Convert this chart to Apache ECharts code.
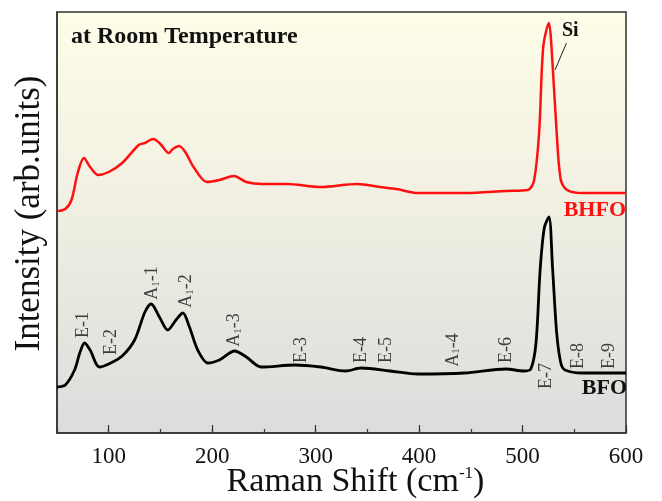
<!DOCTYPE html>
<html>
<head>
<meta charset="utf-8">
<script src="https://cdn.jsdelivr.net/npm/echarts@6/dist/echarts.min.js"></script>
<style>
  html, body { margin: 0; padding: 0; background: #fff; }
  #main { width: 662px; height: 501px; }
</style>
</head>
<body>
<div id="main"></div>
<script>
// ---------- 数据 ----------
// BHFO (红) 拉曼谱, [波数, 强度(任意单位)]
const bhfoShift = [50, 58, 64, 70, 76, 82, 90, 100, 113, 129, 135, 143, 150, 158, 162, 168, 174, 182, 195, 207, 221, 233, 248, 272, 305, 340, 362, 378, 399, 444, 484, 505, 511, 516, 520, 525.5, 528, 533, 537, 543, 558, 600];
const bhfoInt   = [222, 224, 233, 260, 275, 266, 258, 261, 270, 288, 290, 294, 289, 280, 284, 287, 281, 266, 251, 253, 257, 251, 249, 249, 246, 249, 246, 244, 240, 240, 242, 243, 252, 300, 386, 410, 386, 300, 253, 243, 240, 240];

// BFO (黑)
const bfoShift = [50, 58, 67, 72, 76.6, 82, 91, 100, 113, 125, 135, 141, 149, 157, 165, 171.7, 178, 186, 195.8, 207, 221.7, 233, 247.5, 280, 305, 329, 344, 372, 399, 444, 484, 501, 508, 513, 517, 521, 525.5, 529, 533, 537, 541, 558, 600];
const bfoInt   = [46, 48, 63, 80, 90, 83, 66, 69, 77, 93, 121, 129, 116, 103, 113, 120, 106, 83, 70, 73, 82, 76, 66, 68, 66, 62, 65, 62, 59, 60, 64, 62, 64, 90, 163, 205, 216, 165, 100, 70, 63, 60, 60];

// 振动模式标注
const modeNames = ['E-1', 'E-2', 'A{s|1}-1', 'A{s|1}-2', 'A{s|1}-3', 'E-3', 'E-4', 'E-5', 'A{s|1}-4', 'E-6', 'E-7', 'E-8', 'E-9'];
const modeShift = [75, 102.5, 142.5, 175, 221.7, 286, 344, 368.4, 432.8, 483.8, 523, 553.7, 584.3];
const modeLabelY = [108, 91, 150, 142, 103, 83, 83, 83, 83, 83, 57, 77, 77];

// 坐标轴刻度
const majorTicks = [100, 200, 300, 400, 500, 600];

const SERIF = "'Liberation Serif', 'Times New Roman', serif";

function pairs(xs, ys) {
  return xs.map((x, i) => [x, ys[i]]);
}

const chart = echarts.init(document.getElementById('main'), null, { renderer: 'canvas' });

const option = {
  animation: false,
  grid: {
    left: 57, right: 36, top: 12, bottom: 68,
    outerBoundsMode: 'none',
    containLabel: false,
    show: true,
    borderColor: '#333',
    borderWidth: 1.5,
    backgroundColor: new echarts.graphic.LinearGradient(0, 0, 0, 1, [
      { offset: 0, color: '#fefde8' },
      { offset: 0.5, color: '#efeee2' },
      { offset: 1, color: '#dcdcdc' }
    ])
  },
  xAxis: [
    {
      type: 'value', min: 50, max: 600, interval: 50,
      axisLine: { show: true, onZero: false, lineStyle: { color: '#333', width: 1.5 } },
      axisTick: { show: true, inside: true, length: 4, lineStyle: { color: '#333', width: 1.2 } },
      axisLabel: {
        show: true, margin: 12,
        fontFamily: SERIF, fontSize: 23, color: '#111',
        formatter: v => (v % 100 === 0 ? String(v) : '')
      },
      splitLine: { show: false },
      name: 'Raman Shift (cm{sup|-1})',
      nameLocation: 'middle',
      nameGap: 32,
      nameMoveOverlap: false,
      nameTextStyle: {
        fontFamily: SERIF, fontSize: 34, color: '#111',
        padding: [0, 0, 0, 28],
        rich: {
          sup: { fontFamily: SERIF, fontSize: 17, color: '#111', verticalAlign: 'top', padding: [0, 0, 14, 0] }
        }
      }
    },
    {
      type: 'value', min: 50, max: 600,
      position: 'bottom',
      axisLine: { show: false },
      axisTick: { show: true, inside: true, length: 8, customValues: majorTicks, lineStyle: { color: '#333', width: 1.2 } },
      axisLabel: { show: false },
      splitLine: { show: false }
    }
  ],
  yAxis: {
    type: 'value', min: 0, max: 421,
    axisLine: { show: true, lineStyle: { color: '#333', width: 1.5 } },
    axisTick: { show: false },
    axisLabel: { show: false },
    splitLine: { show: false },
    name: 'Intensity (arb.units)',
    nameLocation: 'middle',
    nameGap: 10,
    nameMoveOverlap: false,
    nameTextStyle: { fontFamily: SERIF, fontSize: 35, color: '#111', padding: [0, 0, 0, 18] }
  },
  series: [
    {
      name: 'BHFO', type: 'line',
      data: pairs(bhfoShift, bhfoInt),
      showSymbol: false, smooth: 0.3,
      lineStyle: { color: '#ff1010', width: 2.5 }
    },
    {
      name: 'BFO', type: 'line',
      data: pairs(bfoShift, bfoInt),
      showSymbol: false, smooth: 0.3,
      lineStyle: { color: '#000', width: 2.8 }
    },
    {
      name: 'modes', type: 'scatter',
      symbolSize: 0,
      data: modeNames.map((n, i) => ({ name: n, value: [modeShift[i], modeLabelY[i]] })),
      label: {
        show: true, position: 'inside', rotate: 90,
        formatter: p => p.name,
        fontFamily: SERIF, fontSize: 18, color: '#111',
        rich: {
          s: { fontFamily: SERIF, fontSize: 11, color: '#111', verticalAlign: 'bottom' }
        }
      },
      silent: true
    }
  ],
  graphic: [
    {
      type: 'text', left: 71, top: 25,
      style: { text: 'at Room Temperature', font: 'bold 24px ' + SERIF, fill: '#111' }
    },
    {
      type: 'text', left: 562, top: 21,
      style: { text: 'Si', font: 'bold 20px ' + SERIF, fill: '#111' }
    },
    {
      type: 'line',
      shape: { x1: 566.5, y1: 43, x2: 555, y2: 70 },
      style: { stroke: '#222', lineWidth: 1 }
    },
    {
      type: 'text', right: 36, top: 199,
      style: { text: 'BHFO', font: 'bold 22px ' + SERIF, fill: '#ff1010' }
    },
    {
      type: 'text', right: 35, top: 377,
      style: { text: 'BFO', font: 'bold 22px ' + SERIF, fill: '#111' }
    }
  ]
};

chart.setOption(option);
</script>
</body>
</html>
